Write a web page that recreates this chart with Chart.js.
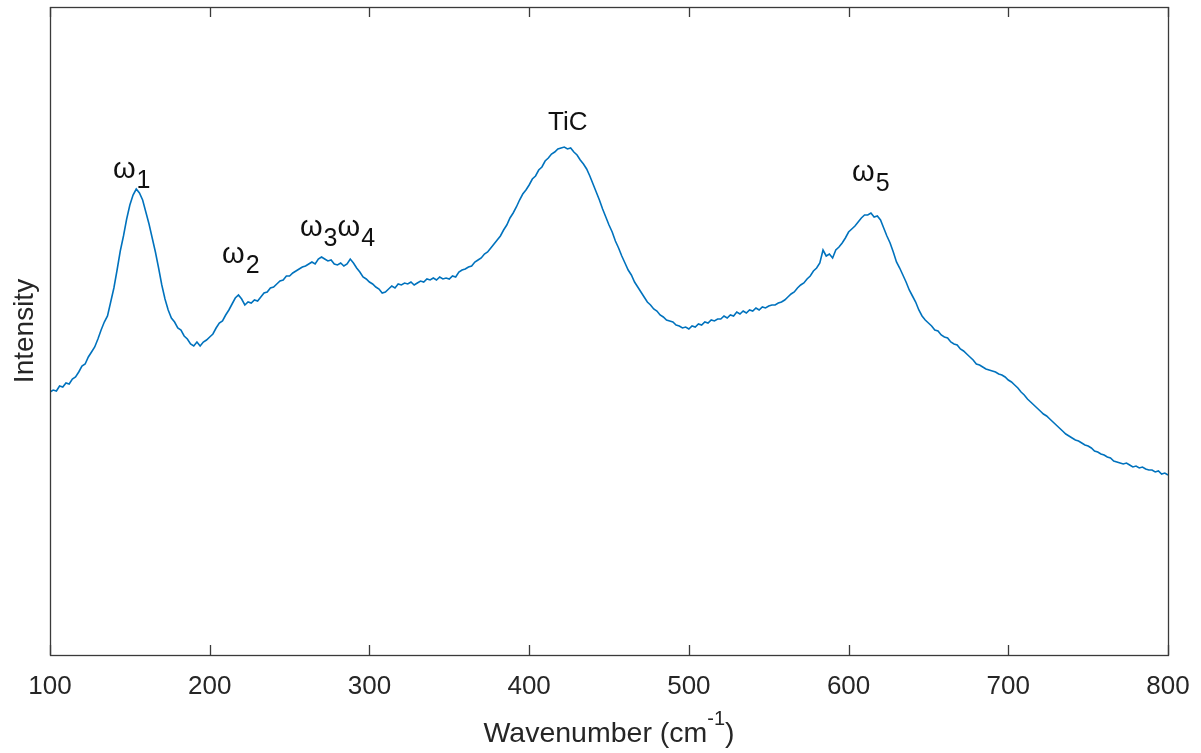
<!DOCTYPE html>
<html lang="en">
<head>
    <meta charset="UTF-8"/>
    <script src="https://cdn.jsdelivr.net/npm/chart.js@4.4.1/dist/chart.umd.min.js"></script>
    <title>Raman spectrum</title>
    <style>
        body { margin: 0; background: #fff; }
        #wrap { width: 1201px; height: 753px; }
    </style>
</head>
<body>
<div id="wrap">
    <canvas id="spectrum"></canvas>
</div>
<script>
    // wavenumber (cm-1), every 2 cm-1
    const wavenumber = [];
    for (let w = 100; w <= 800; w += 2) wavenumber.push(w);

    // intensity, arbitrary units (plot height 648 = top of the box)
    const intensity = [
        263, 265, 264, 269, 268, 272, 271, 276, 278, 283, 289, 291, 298, 303, 308, 316, 325, 333, 339, 353,
        367, 385, 404, 419, 436, 450, 460, 466, 462, 455, 443, 431, 417, 403, 387, 370, 356, 345, 337, 333,
        327, 325, 319, 316, 311, 309, 313, 309, 313, 315, 318, 321, 327, 332, 334, 340, 345, 351, 357, 360,
        356, 350, 353, 352, 355, 354, 358, 362, 363, 367, 368, 371, 374, 375, 379, 379, 382, 384, 386, 388,
        389, 391, 393, 391, 396, 398, 396, 394, 395, 391, 390, 392, 389, 391, 396, 392, 387, 383, 378, 376,
        373, 371, 368, 366, 362, 363, 366, 369, 367, 371, 370, 372, 371, 373, 370, 372, 374, 373, 376, 375,
        377, 375, 378, 376, 377, 376, 379, 378, 383, 385, 386, 388, 389, 393, 395, 397, 401, 403, 407, 411,
        415, 419, 425, 430, 437, 442, 448, 455, 461, 465, 470, 476, 479, 485, 488, 494, 497, 501, 503, 506,
        507, 508, 506, 507, 503, 500, 495, 491, 486, 479, 471, 463, 455, 446, 438, 430, 423, 414, 407, 399,
        392, 385, 380, 373, 368, 363, 358, 353, 350, 346, 344, 340, 338, 335, 334, 333, 330, 329, 327, 328,
        326, 329, 328, 331, 330, 333, 332, 335, 334, 336, 336, 339, 337, 340, 339, 343, 341, 344, 342, 345,
        344, 347, 345, 348, 347, 349, 350, 350, 352, 353, 355, 358, 361, 363, 367, 370, 372, 376, 379, 384,
        387, 392, 405, 399, 401, 397, 405, 408, 412, 417, 423, 426, 429, 433, 437, 440, 440, 442, 438, 439,
        435, 427, 419, 412, 403, 393, 387, 380, 373, 365, 359, 353, 345, 339, 335, 332, 329, 325, 324, 320,
        318, 317, 313, 311, 310, 306, 304, 301, 298, 295, 291, 290, 288, 286, 285, 284, 283, 281, 280, 278,
        275, 273, 270, 267, 263, 260, 256, 253, 250, 247, 244, 241, 239, 236, 233, 230, 227, 224, 221, 219,
        217, 215, 214, 212, 210, 209, 207, 204, 203, 201, 200, 198, 197, 194, 193, 192, 191, 192, 190, 188,
        189, 187, 188, 186, 185, 185, 183, 184, 181, 182, 180
    ];

    const xTicks = [100, 200, 300, 400, 500, 600, 700, 800];

    // peak labels: [main text, subscript] pieces, anchored at (wavenumber, intensity) of baseline start
    const peakText = [
        [['ω', '1']],
        [['ω', '2']],
        [['ω', '3'], ['ω', '4']],
        [['TiC', '']],
        [['ω', '5']]
    ];
    const peakX = [139.4, 207.7, 256.5, 411.8, 602.2];
    const peakY = [477, 392, 419, 525, 474];

    const FONT = '"Liberation Sans", Arial, Helvetica, sans-serif';
    const INK = '#262626';

    const decor = {
        id: 'decor',
        afterDraw(chart) {
            const ctx = chart.ctx;
            const a = chart.chartArea;
            const xs = chart.scales.x, ys = chart.scales.y;
            ctx.save();
            // box
            ctx.strokeStyle = '#3a3a3a';
            ctx.lineWidth = 1.3;
            ctx.strokeRect(Math.round(a.left) + 0.5, Math.round(a.top) + 0.5,
                Math.round(a.right - a.left), Math.round(a.bottom - a.top));
            // inward ticks, bottom and top
            ctx.beginPath();
            xTicks.forEach(v => {
                const p = Math.round(xs.getPixelForValue(v)) + 0.5;
                ctx.moveTo(p, a.bottom);
                ctx.lineTo(p, a.bottom - 10);
                ctx.moveTo(p, a.top);
                ctx.lineTo(p, a.top + 10);
            });
            ctx.stroke();

            // axis titles
            ctx.fillStyle = INK;
            ctx.textBaseline = 'alphabetic';
            ctx.font = '28.5px ' + FONT;
            const t1 = 'Wavenumber (cm';
            const sup = '-1';
            const t2 = ')';
            const w1 = ctx.measureText(t1).width;
            const w3 = ctx.measureText(t2).width;
            ctx.font = '20px ' + FONT;
            const w2 = ctx.measureText(sup).width;
            const total = w1 + w2 + w3;
            let tx = (a.left + a.right) / 2 - total / 2;
            const ty = 742;
            ctx.textAlign = 'left';
            ctx.font = '28.5px ' + FONT;
            ctx.fillText(t1, tx, ty);
            ctx.font = '20px ' + FONT;
            ctx.fillText(sup, tx + w1, ty - 17);
            ctx.font = '28.5px ' + FONT;
            ctx.fillText(t2, tx + w1 + w2, ty);

            ctx.save();
            ctx.translate(33, (a.top + a.bottom) / 2);
            ctx.rotate(-Math.PI / 2);
            ctx.textAlign = 'center';
            ctx.font = '28px ' + FONT;
            ctx.fillText('Intensity', 0, 0);
            ctx.restore();

            // peak labels
            ctx.fillStyle = '#111';
            ctx.textAlign = 'left';
            peakText.forEach((parts, i) => {
                let px = xs.getPixelForValue(peakX[i]);
                const py = ys.getPixelForValue(peakY[i]);
                parts.forEach(([main, sub]) => {
                    ctx.font = (main === 'ω' ? '29px ' : '26px ') + FONT;
                    ctx.fillText(main, px, py);
                    px += ctx.measureText(main).width + 1;
                    if (sub) {
                        ctx.font = '25px ' + FONT;
                        ctx.fillText(sub, px, py + 10);
                        px += ctx.measureText(sub).width;
                    }
                });
            });
            ctx.restore();
        }
    };

    const ctx = document.getElementById('spectrum').getContext('2d');
    const spectrumChart = new Chart(ctx, {
        type: 'line',
        data: {
            datasets: [{
                label: 'Raman',
                data: wavenumber.map((w, i) => ({x: w, y: intensity[i]})),
                borderColor: '#0072BD',
                borderWidth: 1.6,
                pointRadius: 0,
                tension: 0,
                fill: false
            }]
        },
        options: {
            responsive: true,
            maintainAspectRatio: false,
            animation: false,
            layout: {padding: {top: 7, right: 33, left: 0, bottom: 0}},
            plugins: {legend: {display: false}, tooltip: {enabled: false}},
            scales: {
                x: {
                    type: 'linear',
                    min: 100,
                    max: 800,
                    afterFit: s => {
                        s.height = 98;
                        s.paddingLeft = 0;
                        s.paddingRight = 0;
                    },
                    afterBuildTicks: s => { s.ticks = xTicks.map(v => ({value: v})); },
                    grid: {display: false, drawTicks: false},
                    border: {display: false},
                    ticks: {
                        padding: 16,
                        color: INK,
                        font: {family: FONT, size: 26},
                        maxRotation: 0
                    }
                },
                y: {
                    min: 0,
                    max: 648,
                    afterFit: s => { s.width = 50; },
                    grid: {display: false, drawTicks: false},
                    border: {display: false},
                    ticks: {display: false}
                }
            }
        },
        plugins: [decor]
    });
</script>
</body>
</html>
